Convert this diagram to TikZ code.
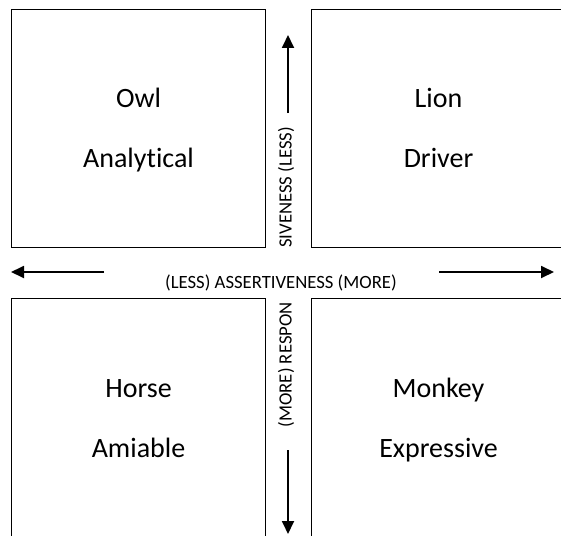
\documentclass[tikz,border=0pt]{standalone}
\usepackage{fontspec}
\setmainfont{Carlito}[Ligatures=NoCommon]
\usetikzlibrary{positioning,arrows.meta}

\begin{document}
\begin{tikzpicture}[x=1pt,y=-1pt,
  quad/.style={draw,line width=1.4pt,minimum width=254pt,minimum height=238pt,inner sep=0pt},
  big/.style={font=\fontsize{28}{34}\selectfont,inner sep=0pt,anchor=base},
  axis/.style={font=\fontsize{18.7}{22}\selectfont,inner sep=0pt},
  arr/.style={line width=1.8pt,-{Triangle[length=13pt,width=12pt]}}]

  \useasboundingbox (0,0) rectangle (561,535);
  \clip (0,0) rectangle (561,535);

  % the four quadrants
  \node[quad] (tl) at (138.5,128.5) {};
  \node[quad] (tr) at (438.5,128.5) {};
  \node[quad] (bl) at (138.5,417.5) {};
  \node[quad] (br) at (438.5,417.5) {};

  \node[big] (owl) at (138.5,107.5) {Owl};
  \node[big] (analytical) [below=60pt of owl.base,anchor=base] {Analytical};
  \node[big] (lion) at (438.5,107.5) {Lion};
  \node[big] (driver) [below=60pt of lion.base,anchor=base] {Driver};
  \node[big] (horse) at (138.5,397) {Horse};
  \node[big] (amiable) [below=60pt of horse.base,anchor=base] {Amiable};
  \node[big] (monkey) at (438.5,397) {Monkey};
  \node[big] (expressive) [below=60pt of monkey.base,anchor=base] {Expressive};

  % axes
  \node[axis] (assert) at (281,283) {(LESS) ASSERTIVENESS (MORE)};
  \node[axis,rotate=90,anchor=west] (respup) at (286,248) {SIVENESS (LESS)};
  \node[axis,rotate=90,anchor=east] (respdown) at (286,302) {(MORE) RESPON};

  \coordinate (lefttail) at (104,272);
  \coordinate (lefttip) at (11,272);
  \coordinate (righttail) at (439,272);
  \coordinate (righttip) at (554,272);
  \coordinate (uptail) at (288,113);
  \coordinate (uptip) at (288,35);
  \coordinate (downtail) at (288,450);
  \coordinate (downtip) at (288,534);

  \draw[arr] (lefttail) -- (lefttip);
  \draw[arr] (righttail) -- (righttip);
  \draw[arr] (uptail) -- (uptip);
  \draw[arr] (downtail) -- (downtip);

\end{tikzpicture}
\end{document}
